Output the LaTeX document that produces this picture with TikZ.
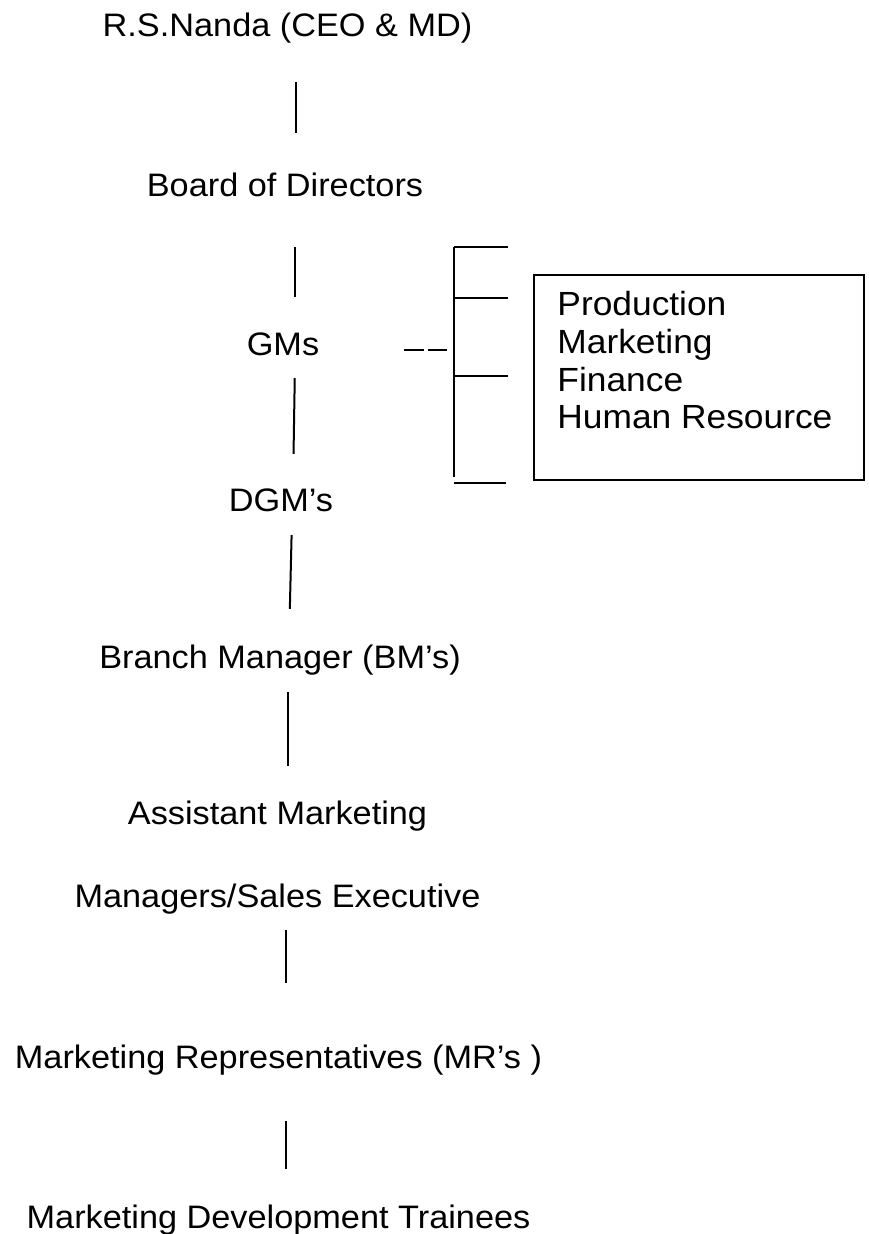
\documentclass[tikz,border=0pt]{standalone}
\usepackage{fontspec}
\setmainfont{Liberation Sans}[FakeStretch=1.055]
\usepackage{tikz}
\newcommand\rolesize{\fontsize{32.5}{39}\selectfont}
\newcommand\deptsize{\fontsize{33.5}{37.7}\selectfont}
\tikzset{role/.style={anchor=base, inner sep=0pt, text height=24pt, text depth=7pt, font=\rolesize}}
\tikzset{link/.style={draw=black, line width=2pt}}
\tikzset{bracket/.style={draw=black, line width=1.5pt}}
\tikzset{deptbox/.style={rectangle, draw=black, line width=1.5pt, minimum width=330pt, minimum height=205pt, inner sep=0pt}}
\tikzset{deptlist/.style={align=left, inner sep=0pt, font=\deptsize}}

\begin{document}
\begin{tikzpicture}[x=1pt,y=-1pt]
\useasboundingbox (0,0) rectangle (868,1234);
% chain of posts
\node[role] (ceo) at (287.5,36) {R.S.Nanda (CEO \& MD)};
\node[role] (board) at (285,196) {Board of Directors};
\node[role] (gms) at (283,355) {GMs};
\node[role] (dgms) at (281,511) {DGM’s};
\node[role] (bms) at (280,668) {Branch Manager (BM’s)};
\node[role] (asst) at (277.5,824) {Assistant Marketing};
\node[role] (sales) at (277.5,907) {Managers/Sales Executive};
\node[role] (mrs) at (278.5,1068) {Marketing Representatives (MR’s )};
\node[role] (mdt) at (278.5,1228) {Marketing Development Trainees};
\foreach \a/\b/\sa/\sb/\ta/\tb in {ceo/board/8.5/11/39/39, board/gms/10/12/44/34, gms/dgms/12/12/16/33, dgms/bms/11/9/17/35, bms/asst/8/10.5/17/34, sales/mrs/8.5/7.5/16/61, mrs/mdt/7.5/7.5/46/35}
	\draw[link, shorten <=\ta pt, shorten >=\tb pt] ([xshift=\sa pt]\a.south) -- ([xshift=\sb pt]\b.north);
% departments under the GMs
\node[deptbox] (deptbox) at (699,377.5) {};
\node[deptlist, anchor=north west] (depts) at ([xshift=24pt,yshift=-17pt]deptbox.north west) {Production\\Marketing\\Finance\\Human Resource};
\coordinate (brtop) at (454,247);
\coordinate (brbot) at (454,477);
\coordinate (gmstap) at ([yshift=-3.5pt]gms.east);
\draw[bracket] (brtop) -- (brbot);
\foreach \y in {247,298,376}
	\draw[bracket] (454,\y) -- ++(54,0);
\draw[bracket, line width=2.2pt] (454,483) -- ++(52,0);
\draw[bracket, dash pattern=on 20pt off 4pt, shorten <=85pt, shorten >=7pt] (gmstap) -- (gmstap -| brtop);
\end{tikzpicture}
\end{document}
